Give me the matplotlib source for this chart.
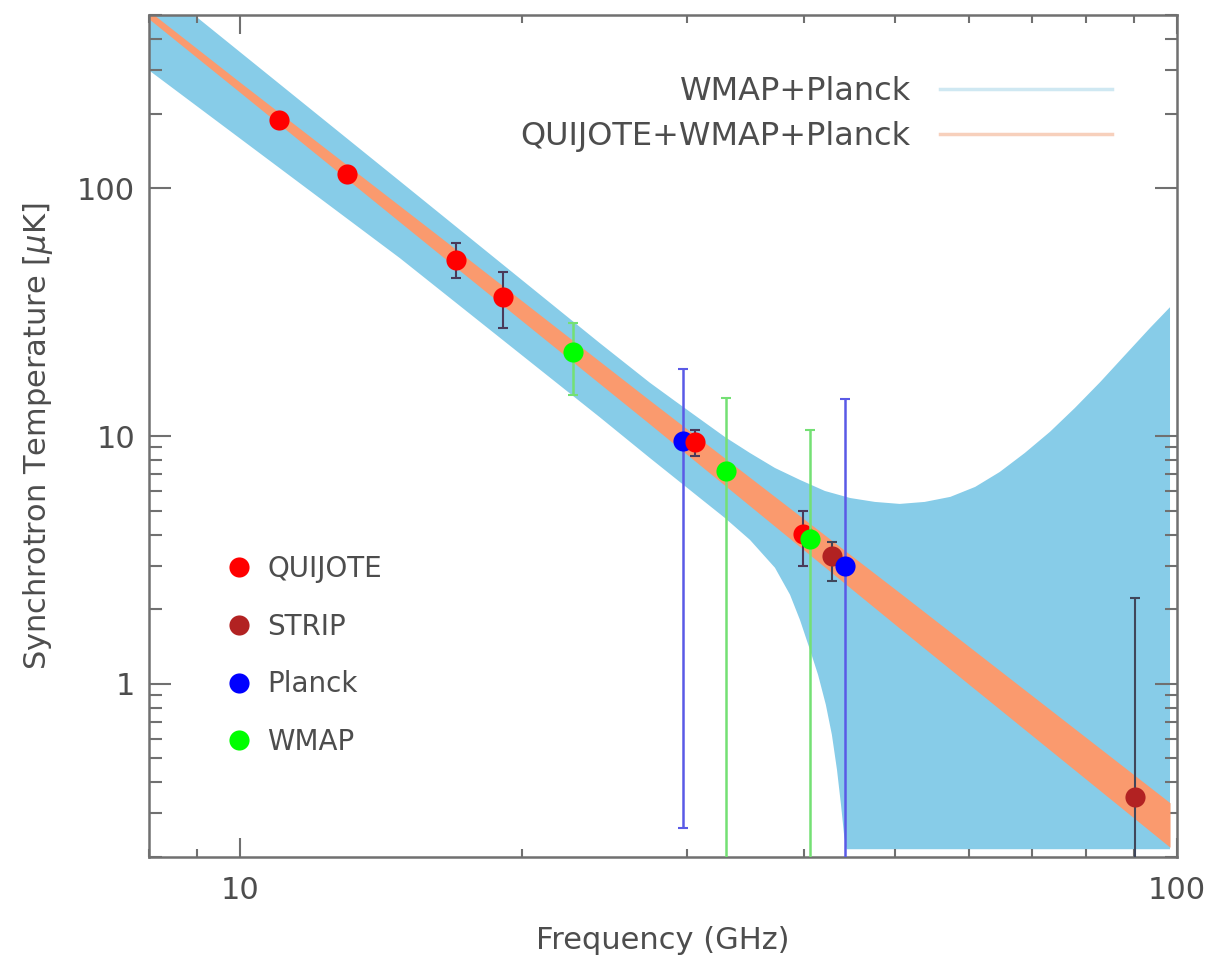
import numpy as np
import matplotlib
matplotlib.use("Agg")
import matplotlib.pyplot as plt
from matplotlib.lines import Line2D
from matplotlib.ticker import FixedLocator, NullFormatter, FixedFormatter

# ---------------- data ----------------
quijote_nu = [11.0, 13.0, 17.0, 19.1, 30.6, 39.9]
quijote_T = [188.0, 114.0, 51.3, 36.3, 9.5, 4.03]
quijote_lo = [188.0, 114.0, 43.4, 27.3, 8.3, 2.98]
quijote_hi = [188.0, 114.0, 59.9, 45.9, 10.6, 4.99]

strip_nu = [42.8, 90.2]
strip_T = [3.28, 0.35]
strip_lo = [2.59, 0.01]
strip_hi = [3.72, 2.22]

planck_nu = [29.7, 44.2]
planck_T = [9.55, 2.99]
planck_lo = [0.263, 0.01]
planck_hi = [18.6, 14.1]

wmap_nu = [22.7, 33.0, 40.6]
wmap_T = [21.8, 7.2, 3.84]
wmap_lo = [14.6, 0.01, 0.01]
wmap_hi = [28.6, 14.2, 10.6]

# WMAP+Planck fit band (blue): upper and lower edges
wp_up_nu = [8.0, 8.95, 14.82, 24.22, 27.39, 29.13, 30.97, 32.93, 35.02, 37.24,
            39.6, 42.1, 44.8, 47.6, 50.6, 53.8, 57.3, 60.9, 64.7, 68.8,
            73.2, 77.8, 82.8, 88.0, 93.6, 98.3]
wp_up_T = [703, 498, 106.7, 23.7, 16.4, 13.84, 11.71, 9.91, 8.54, 7.43,
           6.65, 6.0, 5.62, 5.42, 5.32, 5.42, 5.68, 6.23, 7.16, 8.54,
           10.4, 12.97, 16.5, 21.2, 27.3, 33.1]
wp_lo_nu = [8.0, 14.82, 24.22, 27.39, 30.97, 32.93, 35.02, 37.24, 38.64, 39.6,
            40.59, 41.4, 42.2, 42.83, 43.37, 43.8, 44.13, 44.4, 98.3]
wp_lo_T = [299, 52.2, 11.9, 8.15, 5.62, 4.67, 3.81, 2.94, 2.29, 1.81,
           1.37, 1.087, 0.823, 0.623, 0.45, 0.325, 0.246, 0.215, 0.215]

# QUIJOTE+WMAP+Planck fit band (orange)
qwp_nu = [8.0, 10.0, 16.35, 27.4, 50.6, 90.0, 98.3]
qwp_up_T = [519, 268, 63.6, 13.9, 2.33, 0.429, 0.331]
qwp_lo_T = [482, 244, 54.0, 11.15, 1.675, 0.287, 0.219]

x_major = [10, 100]
x_major_labels = ["10", "100"]
x_minor = [8, 9, 20, 30, 40, 50, 60, 70, 80, 90]
y_major = [1, 10, 100]
y_major_labels = ["1", "10", "100"]
y_minor = [0.2, 0.3, 0.4, 0.5, 0.6, 0.7, 0.8, 0.9,
           2, 3, 4, 5, 6, 7, 8, 9, 200, 300, 400, 500]

# ---------------- style ----------------
plt.rcParams['font.family'] = ['DejaVu Sans']
TXT = '#4d4d4d'
AX = '#707070'
BLUE_BAND = '#87CCE8'
ORANGE_BAND = '#FA9A6E'

fig = plt.figure(figsize=(12.11, 9.57), dpi=100)
ax = fig.add_axes([149 / 1211, 1 - 857 / 957, (1177 - 149) / 1211, (857 - 15) / 957])
ax.set_xscale('log')
ax.set_yscale('log')
ax.set_xlim(8, 100)
ax.set_ylim(0.2, 500)

# bands
ax.fill(np.r_[wp_up_nu, wp_lo_nu[::-1]], np.r_[wp_up_T, wp_lo_T[::-1]],
        color=BLUE_BAND, lw=0, zorder=1)
ax.fill_between(qwp_nu, qwp_lo_T, qwp_up_T, color=ORANGE_BAND, lw=0, zorder=2)


def err(vals, lo, hi):
    v = np.asarray(vals, float)
    return [v - np.asarray(lo, float), np.asarray(hi, float) - v]


ms = 14.5
ax.errorbar(strip_nu, strip_T, yerr=err(strip_T, strip_lo, strip_hi), fmt='o',
            color='#B22222', ms=ms, ecolor='#40465a', elinewidth=1.5, capsize=3.5,
            capthick=1.5, mec='none', zorder=3)
ax.errorbar(planck_nu, planck_T, yerr=err(planck_T, planck_lo, planck_hi), fmt='o',
            color='#0000FF', ms=ms, ecolor='#5a5ae6', elinewidth=1.8, capsize=3.5,
            capthick=1.5, mec='none', zorder=4)
ax.errorbar(quijote_nu, quijote_T, yerr=err(quijote_T, quijote_lo, quijote_hi), fmt='o',
            color='#FF0000', ms=ms, ecolor='#4a3a5a', elinewidth=1.5, capsize=3.5,
            capthick=1.5, mec='none', zorder=5)
ax.errorbar(wmap_nu, wmap_T, yerr=err(wmap_T, wmap_lo, wmap_hi), fmt='o',
            color='#00FF00', ms=ms, ecolor='#74e074', elinewidth=1.8, capsize=3.5,
            capthick=1.5, mec='none', zorder=6)

# axes styling
for s in ax.spines.values():
    s.set_color(AX)
    s.set_linewidth(1.8)
ax.xaxis.set_major_locator(FixedLocator(x_major))
ax.xaxis.set_major_formatter(FixedFormatter(x_major_labels))
ax.xaxis.set_minor_locator(FixedLocator(x_minor))
ax.xaxis.set_minor_formatter(NullFormatter())
ax.yaxis.set_major_locator(FixedLocator(y_major))
ax.yaxis.set_major_formatter(FixedFormatter(y_major_labels))
ax.yaxis.set_minor_locator(FixedLocator(y_minor))
ax.yaxis.set_minor_formatter(NullFormatter())
ax.tick_params(which='both', direction='in', top=True, right=True, color=AX,
               width=1.5, labelcolor=TXT, labelsize=22)
ax.tick_params(axis='x', which='major', length=13.5, pad=14)
ax.tick_params(axis='x', which='minor', length=6)
ax.tick_params(axis='y', which='major', length=16, pad=10)
ax.tick_params(axis='y', which='minor', length=9)

ax.set_xlabel('Frequency (GHz)', fontsize=22, color=TXT, labelpad=15)
ax.set_ylabel('Synchrotron Temperature [$\\mu$K]', fontsize=22, color=TXT, labelpad=16)

# legends
h1 = [Line2D([], [], color='#cfe8f2', lw=2.5), Line2D([], [], color='#f7d0bc', lw=2.5)]
leg1 = ax.legend(h1, ['WMAP+Planck', 'QUIJOTE+WMAP+Planck'], loc='upper right',
                 bbox_to_anchor=(1112 / 1211, 1 - 76 / 957), bbox_transform=fig.transFigure,
                 frameon=False, markerfirst=False, fontsize=23, handlelength=5.4,
                 handletextpad=0.9, labelspacing=0.45, borderpad=0, borderaxespad=0,
                 labelcolor=TXT)
ax.add_artist(leg1)

h2 = [Line2D([], [], ls='none', marker='o', ms=ms, color=c, mec='none')
      for c in ['#FF0000', '#B22222', '#0000FF', '#00FF00']]
leg2 = ax.legend(h2, ['QUIJOTE', 'STRIP', 'Planck', 'WMAP'], loc='upper left',
                 bbox_to_anchor=(224 / 1211, 1 - 555 / 957), bbox_transform=fig.transFigure,
                 frameon=False, fontsize=20, handlelength=1.1, handletextpad=0.45,
                 labelspacing=1.07, borderpad=0, borderaxespad=0, labelcolor=TXT)

fig.savefig('out.png', dpi=100)
